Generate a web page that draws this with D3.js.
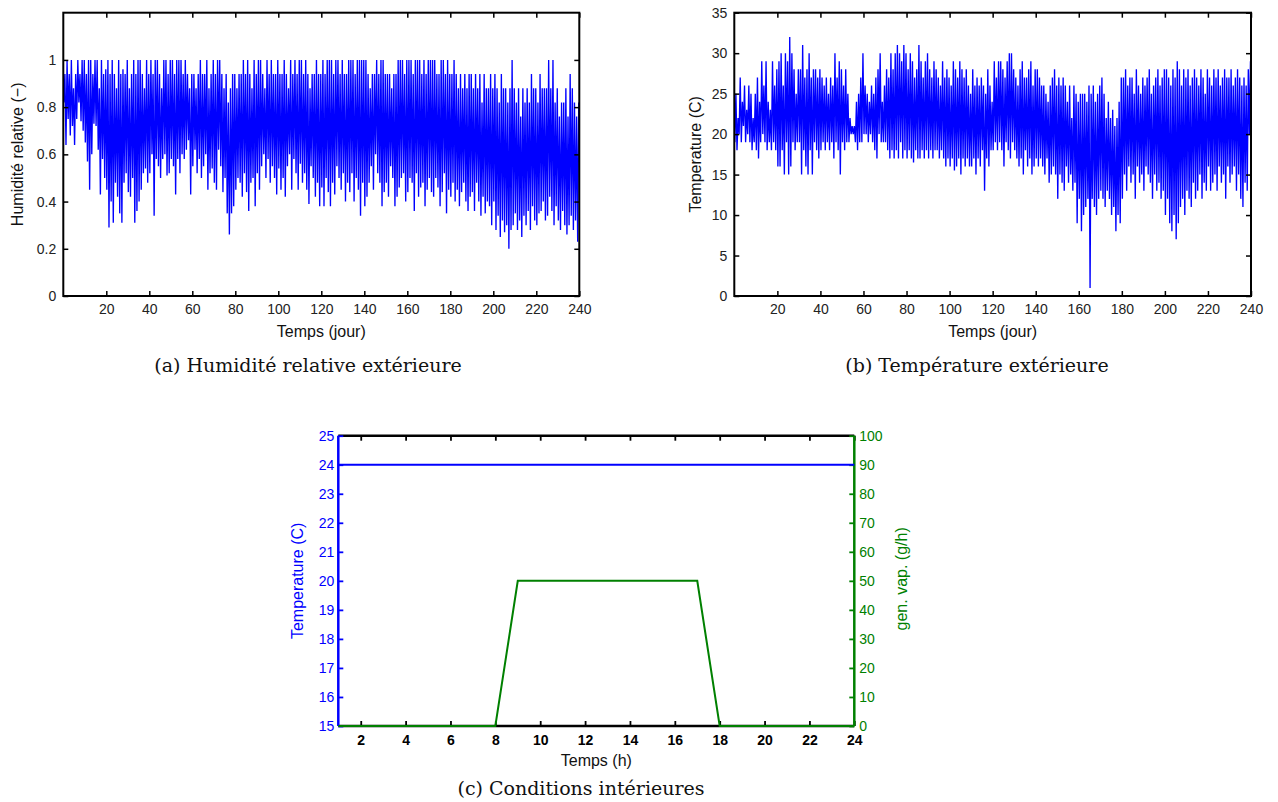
<!DOCTYPE html>
<html><head><meta charset="utf-8">
<script src="https://cdn.jsdelivr.net/npm/d3@7/dist/d3.min.js"></script>
<style>
body{margin:0;background:#fff;}
svg{display:block;}
.tick text{font-family:"Liberation Sans",Arial,sans-serif;}
</style></head>
<body><svg id="c" width="1278" height="802"></svg>
<script>
// ---------- DATA ----------
// (a) daily max / min of outdoor relative humidity, days 0..239
const hrMax = [
0.94,1,0.94,1,0.88,0.94,1,0.94,1,1,
0.94,1,1,0.94,1,1,0.88,1,0.94,0.96,
1,0.94,1,0.94,0.88,1,0.94,0.96,0.94,1,
0.88,0.94,1,0.94,1,1,0.94,0.88,1,0.94,
1,0.94,1,1,0.94,0.88,1,1,0.94,1,
1,0.94,1,1,1,0.94,1,0.94,0.88,0.94,
0.94,0.88,0.94,1,0.94,0.94,1,0.88,0.94,1,
0.94,1,1,0.94,0.88,0.94,0.82,0.88,0.94,0.94,
0.88,0.94,0.94,1,0.94,1,0.94,0.88,1,0.94,
1,1,0.94,0.88,1,0.94,1,0.94,0.94,1,
0.94,0.94,1,0.94,0.88,1,0.94,1,0.94,1,
1,0.94,1,0.94,0.88,0.94,0.94,1,0.94,0.94,
1,0.94,1,1,1,0.94,1,1,0.94,1,
0.94,0.94,1,1,1,0.94,1,1,1,1,
1,0.94,0.88,0.94,0.94,1,0.94,1,1,0.94,
0.94,0.94,0.88,0.94,0.94,1,1,1,0.94,1,
1,1,0.94,1,1,1,0.94,1,0.94,1,
1,1,1,0.94,0.94,1,1,0.94,1,0.94,
0.94,1,0.94,0.88,0.94,0.88,0.94,0.88,0.94,0.94,
0.88,0.94,0.88,0.94,0.82,0.94,0.88,0.88,0.94,0.88,
0.94,0.88,0.82,0.94,0.88,0.88,0.82,0.88,1,0.88,
0.82,0.88,0.76,0.88,0.82,0.88,0.82,0.94,0.88,0.88,
0.82,0.94,0.88,0.88,0.88,1,0.88,1,0.82,0.88,
0.76,0.82,0.82,0.88,0.76,0.94,0.88,0.82,0.76,0.82];
const hrMin = [
0.82,0.64,0.75,0.68,0.72,0.64,0.75,0.82,0.74,0.7,
0.65,0.57,0.45,0.6,0.73,0.72,0.62,0.43,0.58,0.5,
0.45,0.29,0.4,0.31,0.48,0.42,0.35,0.31,0.48,0.52,
0.44,0.42,0.5,0.31,0.36,0.4,0.45,0.52,0.54,0.48,
0.52,0.6,0.34,0.58,0.55,0.5,0.58,0.6,0.51,0.52,
0.58,0.55,0.43,0.58,0.52,0.6,0.58,0.62,0.66,0.43,
0.55,0.62,0.52,0.58,0.5,0.55,0.6,0.45,0.52,0.54,
0.48,0.45,0.62,0.55,0.44,0.5,0.35,0.26,0.35,0.38,
0.45,0.5,0.48,0.42,0.52,0.44,0.36,0.48,0.5,0.38,
0.52,0.45,0.55,0.6,0.5,0.58,0.48,0.55,0.5,0.43,
0.54,0.45,0.5,0.42,0.55,0.6,0.45,0.58,0.52,0.45,
0.56,0.48,0.52,0.45,0.39,0.55,0.5,0.42,0.48,0.38,
0.46,0.38,0.5,0.44,0.38,0.48,0.43,0.55,0.5,0.45,
0.52,0.4,0.48,0.44,0.52,0.4,0.5,0.45,0.34,0.48,
0.38,0.42,0.48,0.55,0.45,0.6,0.52,0.48,0.38,0.44,
0.48,0.42,0.55,0.5,0.38,0.42,0.46,0.5,0.52,0.4,
0.44,0.5,0.48,0.36,0.52,0.42,0.46,0.48,0.38,0.45,
0.5,0.44,0.42,0.5,0.46,0.38,0.44,0.52,0.35,0.45,
0.42,0.48,0.4,0.45,0.38,0.44,0.48,0.4,0.36,0.42,
0.44,0.36,0.48,0.4,0.34,0.42,0.35,0.4,0.38,0.3,
0.4,0.28,0.34,0.25,0.32,0.27,0.3,0.2,0.28,0.3,
0.35,0.28,0.32,0.25,0.34,0.3,0.36,0.28,0.38,0.32,
0.3,0.35,0.36,0.4,0.32,0.34,0.42,0.36,0.3,0.38,
0.32,0.28,0.36,0.3,0.26,0.3,0.34,0.28,0.32,0.23];
// (b) daily max / min of outdoor temperature (C), days 0..239
const tMax = [
25,22,27,24,26,23,26,25,22,25,
27,24,29,26,29,24,23,29,26,28,
29,30,26,30,29,32,30,28,25,28,
28,31,27,28,30,27,28,28,27,28,
27,26,27,25,27,26,30,27,29,28,
26,28,25,22,21,21,24,25,27,30,
26,25,24,26,25,27,28,30,24,26,
28,27,30,28,30,31,30,29,31,30,
28,30,29,27,28,31,29,27,29,30,
28,27,29,28,27,26,29,27,28,27,
26,29,28,27,29,28,27,28,26,25,
28,26,27,26,27,26,25,28,26,24,
29,27,29,29,28,27,29,30,30,28,
27,26,28,29,27,27,28,29,26,28,
28,27,26,26,25,24,26,27,28,26,
27,26,27,26,24,26,22,26,25,24,
25,25,25,24,26,25,26,24,25,26,
27,25,22,24,22,23,21,22,24,27,
27,28,26,27,27,25,28,26,25,27,
26,27,28,25,26,27,28,26,27,28,
28,27,26,28,27,29,28,26,28,27,
28,26,27,28,27,26,28,27,25,28,
27,26,28,27,28,26,27,28,27,27,
28,26,27,28,27,26,27,26,28,29];
const tMin = [
19,18,20,19,21,19,20,19,18,19,
18,17,19,20,19,18,19,18,19,18,
16,16,18,15,19,15,16,19,18,19,
19,15,18,16,15,18,15,19,18,17,
18,19,18,19,18,19,17,19,18,15,
19,18,19,19,20,20,19,18,19,19,
20,20,19,20,19,18,17,20,19,19,
19,18,17,18,17,18,17,19,17,18,
17,18,17,16.5,18,17,17,18,17,18,
17,18,17,18,18,17,18,17,16,17,
16,17,15.5,16,17,15,17,16,17,16,
16,17,15,17,16,18,13,17,16,18,
18,19,18,19,18,16,19,18,17,19,
18,17,16,17,15,18,16,17,15,16,
17,16,17,16,15,17,14,15,16,15,
12,15,14,13,16,14,15,13,14,9,
12,8,10,11,12,1,12,11,10,12,
13,12,11,13,12,10,11,8,10,9,
12,15,13,16,14,15,12,16,14,15,
13,16,15,14,12,15,13,14,12,13,
10,12,9,8,10,7,9,11,12,10,
13,12,11,14,12,13,15,12,14,13,
16,13,14,15,13,16,14,15,12,16,
14,15,16,13,15,12,11,14,13,20];
// (c) indoor conditions, hourly
const hours  = [1,2,3,4,5,6,7,8,9,10,11,12,13,14,15,16,17,18,19,20,21,22,23,24];
const tempIn = [24,24,24,24,24,24,24,24,24,24,24,24,24,24,24,24,24,24,24,24,24,24,24,24];
const vapGen = [0,0,0,0,0,0,0,0,50,50,50,50,50,50,50,50,50,0,0,0,0,0,0,0];
const dayTicks = [20,40,60,80,100,120,140,160,180,200,220,240];
const hrTicks = [0,0.2,0.4,0.6,0.8,1];
const tTicks = [0,5,10,15,20,25,30,35];
const hourTicks = [2,4,6,8,10,12,14,16,18,20,22,24];
const tInTicks = [15,16,17,18,19,20,21,22,23,24,25];
const vapTicks = [0,10,20,30,40,50,60,70,80,90,100];
const captions = ["(a) Humidité relative extérieure","(b) Température extérieure","(c) Conditions intérieures"];

// ---------- DRAW ----------
const svg = d3.select("#c");
const SANS = '"Liberation Sans",Arial,sans-serif';
const SERIF = '"DejaVu Serif",serif';
const BLUE = "#0000ff", GREEN = "#008000";

function zig(maxA, minA){
  const pts = [];
  maxA.forEach((mx,i)=>{ pts.push([i+0.25, minA[i]]); pts.push([i+0.75, mx]); });
  return pts;
}

function panel(o){
  const g = svg.append("g");
  const x = d3.scaleLinear().domain([0,240]).range([o.x0,o.x1]);
  const y = d3.scaleLinear().domain(o.yDom).range([o.y1,o.y0]);
  const clipId = "clip"+o.id;
  svg.append("clipPath").attr("id",clipId).append("rect")
    .attr("x",o.x0).attr("y",o.y0).attr("width",o.x1-o.x0).attr("height",o.y1-o.y0);
  g.append("path").datum(o.pts).attr("clip-path",`url(#${clipId})`)
    .attr("fill","none").attr("stroke",BLUE).attr("stroke-width",1.35)
    .attr("d", d3.line().x(d=>x(d[0])).y(d=>y(d[1])));
  const fs = "14px";
  const ax = (gen, tr)=> g.append("g").attr("transform",tr).call(gen)
      .call(s=>s.select(".domain").remove())
      .call(s=>s.selectAll(".tick line").attr("stroke","#000").attr("stroke-width",1.5))
      .call(s=>s.selectAll("text").attr("font-size",fs).attr("fill","#222"));
  ax(d3.axisBottom(x).tickValues(dayTicks).tickSizeInner(-5).tickSizeOuter(0).tickPadding(8), `translate(0,${o.y1})`);
  ax(d3.axisTop(x).tickValues(dayTicks).tickSizeInner(-5).tickSizeOuter(0).tickFormat(""), `translate(0,${o.y0})`);
  ax(d3.axisLeft(y).tickValues(o.yTicks).tickSizeInner(-5).tickSizeOuter(0).tickPadding(7).tickFormat(d3.format("")), `translate(${o.x0},0)`);
  ax(d3.axisRight(y).tickValues(o.yTicks).tickSizeInner(-5).tickSizeOuter(0).tickFormat(""), `translate(${o.x1},0)`);
  g.append("rect").attr("x",o.x0).attr("y",o.y0).attr("width",o.x1-o.x0).attr("height",o.y1-o.y0)
    .attr("fill","none").attr("stroke","#000").attr("stroke-width",2);
  g.append("text").attr("x",(o.x0+o.x1)/2).attr("y",o.y1+41).attr("text-anchor","middle")
    .attr("font-family",SANS).attr("font-size","16px").attr("fill","#111").text("Temps (jour)");
  g.append("text").attr("transform",`translate(${o.ylx},${(o.y0+o.y1)/2}) rotate(-90)`)
    .attr("text-anchor","middle").attr("font-family",SANS).attr("font-size","16px").attr("fill","#111").text(o.ylabel);
  g.append("text").attr("x",o.capX).attr("y",o.capY).attr("text-anchor","middle")
    .attr("font-family",SERIF).attr("font-size","19px").attr("fill","#111").text(o.caption);
}

panel({id:"a",x0:63.3,x1:579.3,y0:12.7,y1:296,yDom:[0,1.2],yTicks:hrTicks,pts:zig(hrMax,hrMin),
  ylabel:"Humidité relative (−)",ylx:23,caption:captions[0],capX:308,capY:372});
panel({id:"b",x0:734.3,x1:1251,y0:12.7,y1:296,yDom:[0,35],yTicks:tTicks,pts:zig(tMax,tMin),
  ylabel:"Temperature (C)",ylx:701,caption:captions[1],capX:977,capY:372});

// panel c
(function(){
  const x0=338.3,x1=854.3,y0=435.7,y1=726;
  const x = d3.scaleLinear().domain([1,24]).range([x0,x1]);
  const yL = d3.scaleLinear().domain([15,25]).range([y1,y0]);
  const yR = d3.scaleLinear().domain([0,100]).range([y1,y0]);
  const g = svg.append("g");
  g.append("line").attr("x1",x0).attr("x2",x1).attr("y1",y0).attr("y2",y0).attr("stroke","#000").attr("stroke-width",2.5);
  g.append("line").attr("x1",x0).attr("x2",x1).attr("y1",y1).attr("y2",y1).attr("stroke","#000").attr("stroke-width",2.5);
  const ax = (gen,tr,col,fw)=> g.append("g").attr("transform",tr).call(gen)
      .call(s=>s.select(".domain").remove())
      .call(s=>s.selectAll(".tick line").attr("stroke",col).attr("stroke-width",1.8))
      .call(s=>s.selectAll("text").attr("font-size","14px").attr("fill",col).attr("font-weight",fw));
  ax(d3.axisBottom(x).tickValues(hourTicks).tickSizeInner(-5).tickSizeOuter(0).tickPadding(9), `translate(0,${y1})`,"#000","bold");
  ax(d3.axisTop(x).tickValues(hourTicks).tickSizeInner(-5).tickSizeOuter(0).tickFormat(""), `translate(0,${y0})`,"#000","normal");
  ax(d3.axisLeft(yL).tickValues(tInTicks).tickSizeInner(-5).tickSizeOuter(0).tickPadding(4), `translate(${x0},0)`,BLUE,"normal");
  ax(d3.axisRight(yR).tickValues(vapTicks).tickSizeInner(-5).tickSizeOuter(0).tickPadding(5), `translate(${x1},0)`,GREEN,"normal");
  g.append("line").attr("x1",x0).attr("x2",x0).attr("y1",y0).attr("y2",y1).attr("stroke",BLUE).attr("stroke-width",2.5);
  g.append("line").attr("x1",x1).attr("x2",x1).attr("y1",y0).attr("y2",y1).attr("stroke",GREEN).attr("stroke-width",2.5);
  g.append("path").datum(hours.map((h,i)=>[h,tempIn[i]])).attr("fill","none").attr("stroke",BLUE).attr("stroke-width",2)
    .attr("d",d3.line().x(d=>x(d[0])).y(d=>yL(d[1])));
  g.append("path").datum(hours.map((h,i)=>[h,vapGen[i]])).attr("fill","none").attr("stroke",GREEN).attr("stroke-width",2)
    .attr("d",d3.line().x(d=>x(d[0])).y(d=>yR(d[1])));
  g.append("text").attr("x",(x0+x1)/2).attr("y",766).attr("text-anchor","middle")
    .attr("font-family",SANS).attr("font-size","16px").attr("fill","#111").text("Temps (h)");
  g.append("text").attr("transform",`translate(303,${(y0+y1)/2}) rotate(-90)`).attr("text-anchor","middle")
    .attr("font-family",SANS).attr("font-size","16px").attr("fill",BLUE).text("Temperature (C)");
  g.append("text").attr("transform",`translate(907,${(y0+y1)/2-2}) rotate(-90)`).attr("text-anchor","middle")
    .attr("font-family",SANS).attr("font-size","16px").attr("fill",GREEN).text("gen. vap. (g/h)");
  g.append("text").attr("x",581).attr("y",795).attr("text-anchor","middle")
    .attr("font-family",SERIF).attr("font-size","19px").attr("fill","#111").text(captions[2]);
})();
</script></body></html>
